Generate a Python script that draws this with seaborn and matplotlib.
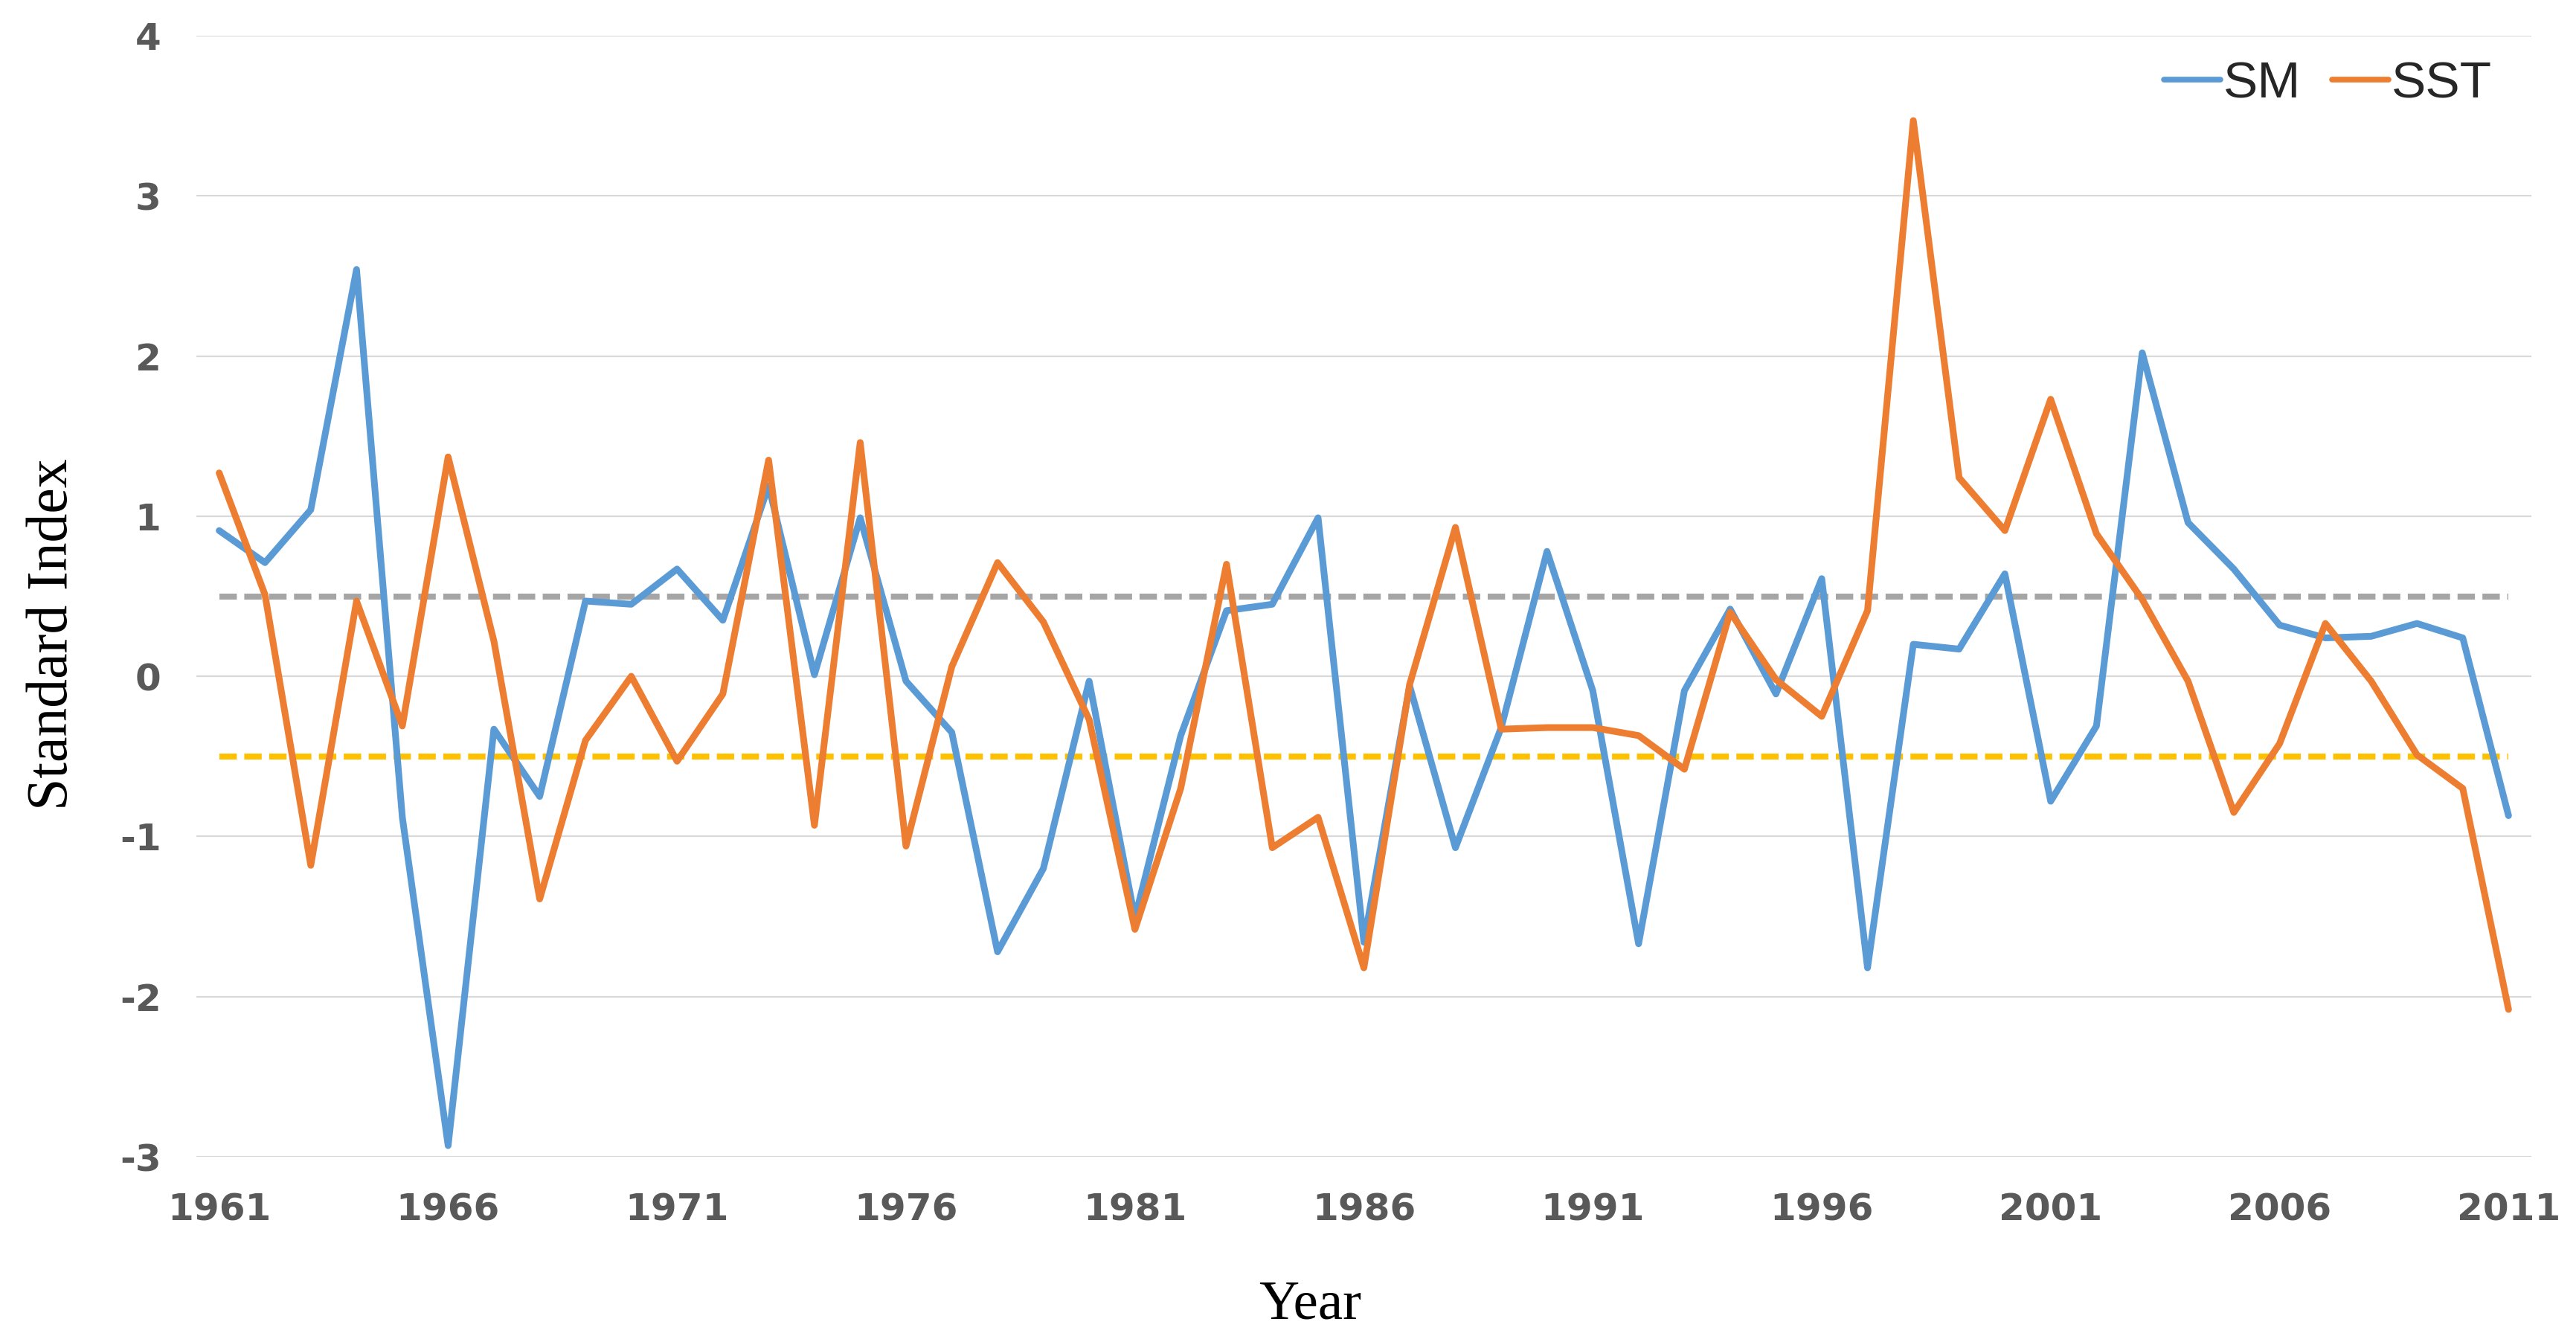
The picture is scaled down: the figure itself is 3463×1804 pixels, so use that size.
import pandas as pd
import seaborn as sns
import matplotlib.pyplot as plt

# Standardised index values, 1961-2011
years = list(range(1961, 2012))
sm = [0.91, 0.71, 1.04, 2.54, -0.88, -2.93, -0.33, -0.75, 0.47, 0.45,
      0.67, 0.35, 1.19, 0.01, 0.99, -0.03, -0.35, -1.72, -1.20, -0.03,
      -1.51, -0.37, 0.41, 0.45, 0.99, -1.66, -0.06, -1.07, -0.32, 0.78,
      -0.09, -1.67, -0.09, 0.42, -0.11, 0.61, -1.82, 0.20, 0.17, 0.64,
      -0.78, -0.31, 2.02, 0.96, 0.67, 0.32, 0.24, 0.25, 0.33, 0.24, -0.87]
sst = [1.27, 0.51, -1.18, 0.47, -0.31, 1.37, 0.22, -1.39, -0.40, 0.00,
       -0.53, -0.11, 1.35, -0.93, 1.46, -1.06, 0.06, 0.71, 0.34, -0.27,
       -1.58, -0.70, 0.70, -1.07, -0.88, -1.82, -0.05, 0.93, -0.33, -0.32,
       -0.32, -0.37, -0.58, 0.40, -0.02, -0.25, 0.41, 3.47, 1.24, 0.91,
       1.73, 0.89, 0.48, -0.03, -0.85, -0.42, 0.33, -0.03, -0.49, -0.70, -2.08]
upper, lower = 0.5, -0.5
xticks = list(range(1961, 2012, 5))
yticks = list(range(-3, 5))

df = pd.DataFrame({'Year': years * 2,
                   'Value': sm + sst,
                   'Series': ['SM'] * len(years) + ['SST'] * len(years)})

sns.set_style("white")

fig = plt.figure(figsize=(34.63, 18.04), dpi=100)
ax = fig.add_axes([0.0762, 0.138, 0.9065, 0.8354])

# threshold lines
ax.plot([years[0], years[-1]], [upper, upper], color='#A5A5A5', linewidth=5.8,
        dashes=(2.9, 1.25), zorder=1)
ax.plot([years[0], years[-1]], [lower, lower], color='#FFC000', linewidth=5.8,
        dashes=(2.9, 1.25), zorder=1)

sns.lineplot(data=df, x='Year', y='Value', hue='Series',
             palette={'SM': '#5B9BD5', 'SST': '#ED7D31'}, ax=ax)
for line in ax.lines[2:]:
    line.set_linewidth(6.5)
    line.set_zorder(3)

ax.set_xlim(1960.5, 2011.5)
ax.set_ylim(-3, 4)
ax.set_xticks(xticks)
ax.set_xticklabels([str(t) for t in xticks])
ax.set_yticks(yticks)
ax.set_yticklabels([str(t) for t in yticks])
ax.tick_params(length=0, labelsize=36, labelcolor='#595959')
ax.tick_params(axis='x', pad=34)
ax.tick_params(axis='y', pad=34)
for lab in ax.get_xticklabels() + ax.get_yticklabels():
    lab.set_fontweight('bold')

ax.yaxis.grid(True, color='#D9D9D9', linewidth=1.6)
ax.xaxis.grid(False)
for s in ax.spines.values():
    s.set_visible(False)

ax.set_xlabel('Year', fontsize=54, family='Liberation Serif', color='black')
ax.set_ylabel('Standard Index', fontsize=56, family='Liberation Serif',
              color='black')
ax.xaxis.set_label_coords(0.477, -0.11)
ax.yaxis.set_label_coords(-0.050, 0.466)

leg = ax.legend(loc='upper right', bbox_to_anchor=(0.994, 1.001), frameon=False,
                ncol=2, handlelength=1.1, handletextpad=0.05, columnspacing=0.6,
                borderpad=0, prop={'family': 'Liberation Sans', 'size': 50})
for line in leg.get_lines():
    line.set_linewidth(5.5)

fig.savefig('out.png', dpi=100)
